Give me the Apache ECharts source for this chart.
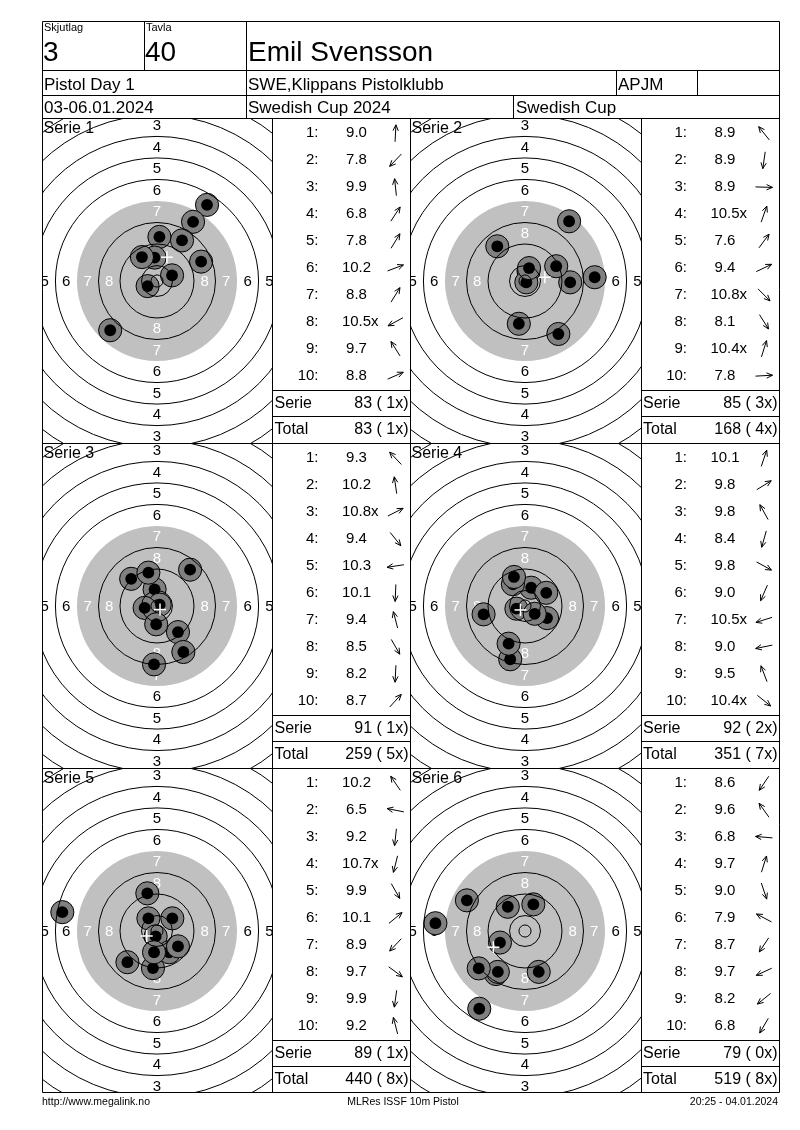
<!DOCTYPE html>
<html><head><meta charset="utf-8">
<script src="https://cdn.jsdelivr.net/npm/echarts@6/dist/echarts.min.js"></script>
<style>html,body{margin:0;padding:0;background:#fff}#c{width:800px;height:1130px}</style>
</head><body><div id="c"></div>
<script>
// ---------------- DATA ----------------
const headerLabels = ['Skjutlag', 'Tavla'];
const relay = '3';
const targetNo = '40';
const shooterName = 'Emil Svensson';
const eventName = 'Pistol Day 1';
const clubName = 'SWE,Klippans Pistolklubb';
const classCode = 'APJM';
const dateText = '03-06.01.2024';
const competition = 'Swedish Cup 2024';
const cupName = 'Swedish Cup';
const footerLeft = 'http://www.megalink.no';
const footerCenter = 'MLRes ISSF 10m Pistol';
const footerRight = '20:25 - 04.01.2024';

const serieNames = ['Serie 1', 'Serie 2', 'Serie 3', 'Serie 4', 'Serie 5', 'Serie 6'];

// decimal shot values, inner-ten flags, shot positions (mm from centre, y up)
const s1Val = [9.0, 7.8, 9.9, 6.8, 7.8, 10.2, 8.8, 10.5, 9.7, 8.8];
const s1Inner = [0, 0, 0, 0, 0, 0, 0, 1, 0, 0];
const s1X = [0.9, -17.4, -0.9, 18.6, 13.4, 5.6, 9.3, -3.5, -5.6, 16.4];
const s1Y = [16.4, -18.3, 8.7, 28.3, 22.0, 2.1, 15.1, -1.9, 8.9, 7.2];

const s2Val = [8.9, 8.9, 8.9, 10.5, 7.6, 9.4, 10.8, 8.1, 10.4, 7.8];
const s2Inner = [0, 0, 0, 1, 0, 0, 1, 0, 1, 0];
const s2X = [-10.3, -2.3, 16.8, 1.3, 16.4, 11.6, 0.5, 12.4, 1.5, 25.9];
const s2Y = [12.9, -15.9, -0.5, 3.7, 22.2, 5.5, -0.5, -19.7, 4.8, 1.4];

const s3Val = [9.3, 10.2, 10.8, 9.4, 10.3, 10.1, 9.4, 8.5, 8.2, 8.7];
const s3Inner = [0, 0, 1, 0, 0, 0, 0, 0, 0, 0];
const s3X = [-9.6, -0.9, 1.0, 7.8, -4.6, -0.3, -3.2, 9.8, -1.1, 12.3];
const s3Y = [10.1, 6.2, 0.5, -9.7, -0.7, -6.8, 12.4, -17.1, -21.7, 13.5];

const s4Val = [10.1, 9.8, 9.8, 8.4, 9.8, 9.0, 10.5, 9.0, 9.5, 10.4];
const s4Inner = [0, 0, 0, 0, 0, 0, 1, 0, 0, 1];
const s4X = [2.3, 7.9, -4.5, -5.5, 8.2, -6.1, -3.2, -15.4, -4.1, 3.6];
const s4Y = [6.8, 4.9, 8.1, -19.8, -4.5, -14.0, -1.0, -3.1, 10.8, -2.9];

const s5Val = [10.2, 6.5, 9.2, 10.7, 9.9, 10.1, 8.9, 9.7, 9.9, 9.2];
const s5Inner = [0, 0, 0, 1, 0, 0, 0, 0, 0, 0];
const s5X = [-3.2, -35.2, -1.5, -0.5, 4.5, 5.7, -11.0, 7.8, -1.1, -3.6];
const s5Y = [4.7, 7.0, -13.8, -2.0, -7.9, 4.7, -11.6, -5.7, -7.9, 14.0];

const s6Val = [8.6, 9.6, 6.8, 9.7, 9.0, 7.9, 8.7, 9.7, 8.2, 6.8];
const s6Inner = [0, 0, 0, 0, 0, 0, 0, 0, 0, 0];
const s6X = [-10.8, -6.4, -33.3, 3.1, 5.1, -21.6, -10.1, -9.3, -17.2, -17.0];
const s6Y = [-16.0, 9.0, 2.9, 9.9, -15.2, 11.4, -15.2, -4.3, -13.9, -28.9];

const ringNumbers = [1, 2, 3, 4, 5, 6, 7, 8, 9, 10];
const ringLabelNumbers = [1, 2, 3, 4, 5, 6, 7, 8];

// ---------------- LAYOUT ----------------
const FONT = '"Liberation Sans", Arial, sans-serif';
const K = 2.69;          // px per mm
const CX = 115, CY = 163; // target centre inside panel (px)
const PH = 325;
const colLeft = [42, 410], tabLeft = [272.5, 641], tabRight = [410.5, 779.5];
const rowTop = [118, 443, 768];
const ringRadius = n => 5.75 + 8 * (10 - n); // ISSF 10m air pistol, mm
const BLACK_R = ringRadius(7);
const INNER_TEN_R = 2.25;
const SHOT_R = 4.3, SHOT_CORE_R = 2.2;

const allSeries = [
  {val: s1Val, inner: s1Inner, x: s1X, y: s1Y},
  {val: s2Val, inner: s2Inner, x: s2X, y: s2Y},
  {val: s3Val, inner: s3Inner, x: s3X, y: s3Y},
  {val: s4Val, inner: s4Inner, x: s4X, y: s4Y},
  {val: s5Val, inner: s5Inner, x: s5X, y: s5Y},
  {val: s6Val, inner: s6Inner, x: s6X, y: s6Y}
];

const measureCtx = document.createElement('canvas').getContext('2d');
function textWidth(t, size) { measureCtx.font = size + 'px ' + FONT; return measureCtx.measureText(t).width; }

const grids = [], xAxes = [], yAxes = [], series = [], els = [];
const T = (x, y, text, size, align, extra) => Object.assign({
  type: 'text', x: x, y: y, z: 20,
  style: {text: text, font: size + 'px ' + FONT, fill: '#000', align: align || 'left', verticalAlign: 'middle'}
}, extra || {});
const L = (x1, y1, x2, y2) => ({type: 'line', z: 20, shape: {x1, y1, x2, y2}, style: {stroke: '#000', lineWidth: 1}});

const ringLineData = ringNumbers.filter(n => n !== 7).map(n => [ringRadius(n)]).concat([[INNER_TEN_R]]);
const labelData = [];
ringLabelNumbers.forEach(n => { [[0, 1], [0, -1], [-1, 0], [1, 0]].forEach(d => labelData.push([n, d[0], d[1]])); });

let cumTotal = 0, cumX = 0;
allSeries.forEach((s, i) => {
  const col = i % 2, row = Math.floor(i / 2);
  const left = colLeft[col], top = rowTop[row], w = Math.round(tabLeft[col]) - left;
  grids.push({left: left, top: top, width: w, height: PH});
  xAxes.push({type: 'value', gridIndex: i, min: -CX / K, max: (w - CX) / K, show: false});
  yAxes.push({type: 'value', gridIndex: i, min: -(PH - CY) / K, max: CY / K, show: false});
  const base = {type: 'custom', coordinateSystem: 'cartesian2d', xAxisIndex: i, yAxisIndex: i, clip: true, silent: true, animation: false};

  // black (grey) aiming area
  series.push(Object.assign({}, base, {z: 1, data: [[0, 0]], renderItem: (p, api) => {
    const c = api.coord([0, 0]), r = api.size([BLACK_R, 0])[0];
    return {type: 'circle', shape: {cx: c[0], cy: c[1], r: r}, style: {fill: '#c0c0c0'}};
  }}));
  // ring numbers
  series.push(Object.assign({}, base, {z: 2, data: labelData, renderItem: (p, api) => {
    const n = api.value(0), rl = ringRadius(n) - 4;
    const c = api.coord([api.value(1) * rl, api.value(2) * rl]);
    return {type: 'text', x: c[0], y: c[1] + 0.5, style: {text: String(n), font: '15px ' + FONT,
      fill: n >= 7 ? '#ffffff' : '#000000', align: 'center', verticalAlign: 'middle'}};
  }}));
  // shots
  series.push(Object.assign({}, base, {z: 3, data: s.x.map((x, j) => [x, s.y[j]]), renderItem: (p, api) => {
    const c = api.coord([api.value(0), api.value(1)]);
    const ro = api.size([SHOT_R, 0])[0], ri = api.size([SHOT_CORE_R, 0])[0];
    return {type: 'group', children: [
      {type: 'circle', shape: {cx: c[0], cy: c[1], r: ro}, style: {fill: '#808080', stroke: '#000', lineWidth: 1}},
      {type: 'circle', shape: {cx: c[0], cy: c[1], r: ri}, style: {fill: '#000'}}
    ]};
  }}));
  // ring lines
  series.push(Object.assign({}, base, {z: 4, data: ringLineData.map(d => [0, 0, d[0]]), renderItem: (p, api) => {
    const c = api.coord([0, 0]), r = api.size([api.value(2), 0])[0];
    return {type: 'circle', shape: {cx: c[0], cy: c[1], r: r}, style: {fill: 'none', stroke: '#000', lineWidth: 1}};
  }}));
  // mean point of impact
  const mx = s.x.reduce((a, b) => a + b, 0) / s.x.length, my = s.y.reduce((a, b) => a + b, 0) / s.y.length;
  series.push(Object.assign({}, base, {z: 5, data: [[mx, my]], renderItem: (p, api) => {
    const c = api.coord([api.value(0), api.value(1)]), h = 6;
    return {type: 'group', children: [
      {type: 'line', shape: {x1: c[0] - h, y1: c[1], x2: c[0] + h, y2: c[1]}, style: {stroke: '#fff', lineWidth: 1.5}},
      {type: 'line', shape: {x1: c[0], y1: c[1] - h, x2: c[0], y2: c[1] + h}, style: {stroke: '#fff', lineWidth: 1.5}}
    ]};
  }}));

  // title
  els.push(T(left + 1.5, top + 11, serieNames[i], 16));

  // table
  const tl = tabLeft[col], tr = tabRight[col];
  s.val.forEach((v, j) => {
    const y = top + 15.3 + 26.93 * j;
    els.push(T(tl + 46, y, (j + 1) + ':', 15, 'right'));
    const vs = v.toFixed(1);
    els.push(T(tl + 84, y, vs, 15, 'center'));
    if (s.inner[j]) els.push(T(tl + 84 + textWidth(vs, 15) / 2, y, 'x', 15, 'left'));
    // direction arrow from shot position
    const ang = Math.atan2(s.y[j], s.x[j]);
    const ax = tl + 123, ay = y, AL = 8.5, HL = 6.5, HA = 0.42;
    const ux = Math.cos(ang), uy = -Math.sin(ang);
    const tip = [ax + ux * AL, ay + uy * AL], tail = [ax - ux * AL, ay - uy * AL];
    const b = ang + Math.PI;
    const h1 = [tip[0] + Math.cos(b + HA) * HL, tip[1] - Math.sin(b + HA) * HL];
    const h2 = [tip[0] + Math.cos(b - HA) * HL, tip[1] - Math.sin(b - HA) * HL];
    els.push(L(tail[0], tail[1], tip[0], tip[1]));
    els.push({type: 'polyline', z: 20, shape: {points: [h1, tip, h2]}, style: {stroke: '#000', lineWidth: 1, fill: null}});
  });
  const serieSum = s.val.reduce((a, v) => a + Math.floor(v + 1e-9), 0);
  const serieX = s.inner.reduce((a, v) => a + v, 0);
  cumTotal += serieSum; cumX += serieX;
  const fmt = (sum, x) => sum + ' (' + String(x).padStart(2, ' ') + 'x)';
  els.push(L(tl, top + 272.5, tr, top + 272.5));
  els.push(L(tl, top + 298.5, tr, top + 298.5));
  els.push(T(tl + 2, top + 285.5, 'Serie', 16));
  els.push(T(tr - 2, top + 285.5, fmt(serieSum, serieX), 16, 'right'));
  els.push(T(tl + 2, top + 311.5, 'Total', 16));
  els.push(T(tr - 2, top + 311.5, fmt(cumTotal, cumX), 16, 'right'));
});

// frame and dividers
els.push({type: 'rect', z: 20, shape: {x: 42.5, y: 21.5, width: 737, height: 1071}, style: {fill: 'none', stroke: '#000', lineWidth: 1}});
els.push(L(42.5, 70.5, 779.5, 70.5));
els.push(L(42.5, 95.5, 779.5, 95.5));
els.push(L(42.5, 118.5, 779.5, 118.5));
els.push(L(42.5, 443.5, 779.5, 443.5));
els.push(L(42.5, 768.5, 779.5, 768.5));
els.push(L(144.5, 21.5, 144.5, 70.5));
els.push(L(246.5, 21.5, 246.5, 118.5));
els.push(L(616.5, 70.5, 616.5, 95.5));
els.push(L(697.5, 70.5, 697.5, 95.5));
els.push(L(513.5, 95.5, 513.5, 118.5));
[272.5, 410.5, 641.5].forEach(x => els.push(L(x, 118.5, x, 1092.5)));

// header texts
els.push(T(44, 28, headerLabels[0], 11));
els.push(T(146, 28, headerLabels[1], 11));
els.push(T(43, 53.5, relay, 28));
els.push(T(145, 53.5, targetNo, 28));
els.push(T(248, 53.5, shooterName, 28));
els.push(T(44, 85.5, eventName, 17));
els.push(T(248, 85.5, clubName, 17));
els.push(T(618, 85.5, classCode, 17));
els.push(T(44, 108.5, dateText, 17));
els.push(T(248, 108.5, competition, 17));
els.push(T(516, 108.5, cupName, 17));
// footer
els.push(T(42, 1102, footerLeft, 10.5));
els.push(T(403, 1102, footerCenter, 10.5, 'center'));
els.push(T(778, 1102, footerRight, 10.5, 'right'));

const chart = echarts.init(document.getElementById('c'), null, {renderer: 'canvas', width: 800, height: 1130});
chart.setOption({
  animation: false,
  backgroundColor: '#ffffff',
  grid: grids, xAxis: xAxes, yAxis: yAxes, series: series,
  graphic: {elements: els}
});
</script></body></html>
